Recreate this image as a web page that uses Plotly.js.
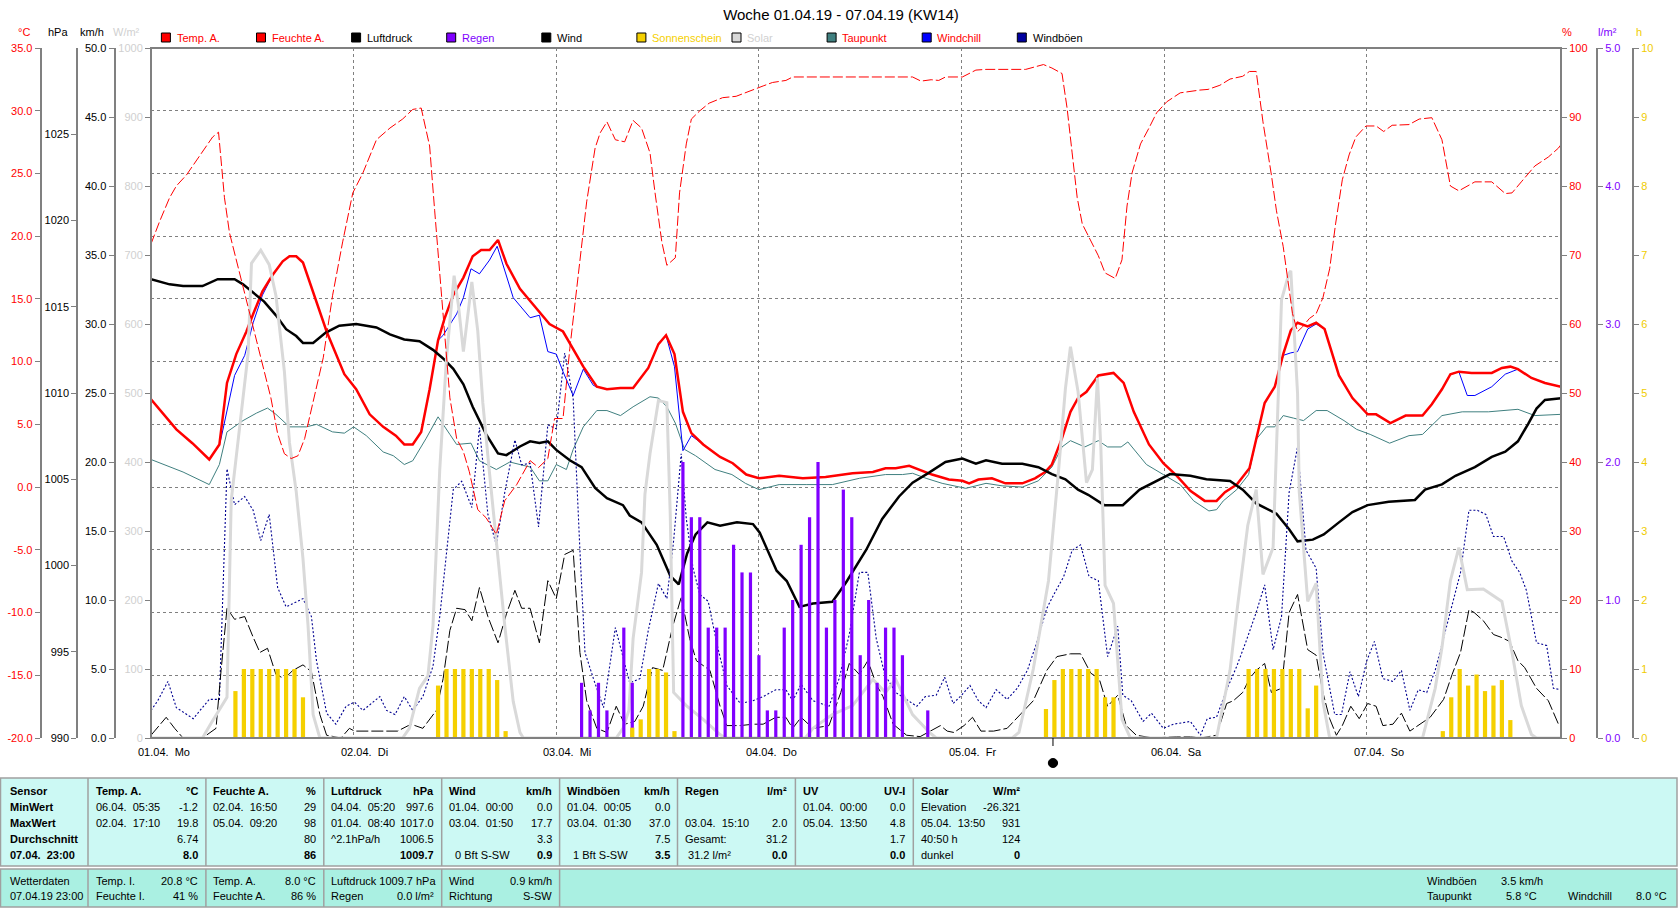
<!DOCTYPE html>
<html><head><meta charset="utf-8">
<script src="https://cdn.plot.ly/plotly-3.0.1.min.js"></script>
<style>html,body{margin:0;padding:0;background:#fff;overflow:hidden}#chart{width:1680px;height:909px}</style>
</head><body><div id="chart"></div>
<script>
// ---- data: [hours since 01.04.19 00:00, value] ----
const tempA = [[0,7.0],[3.0,4.6],[4.9,3.5],[6.9,2.2],[8.1,3.4],[9.0,8.3],[10.1,10.6],[11.3,12.4],[12.1,13.8],[13.2,15.6],[14.4,16.9],[15.6,18.0],[16.4,18.4],[17.2,18.4],[18.0,17.9],[19.2,15.6],[20.8,12.4],[22.9,9.0],[24.3,7.8],[25.9,5.8],[27.5,4.8],[29.0,4.1],[30.0,3.4],[31.0,3.4],[32.0,4.4],[33.0,7.8],[34.0,11.7],[34.8,13.5],[35.8,15.3],[37.0,16.7],[38.1,18.4],[39.1,18.9],[40.1,18.9],[41.1,19.7],[42.1,17.8],[43.7,15.8],[45.7,14.2],[47.2,13.0],[48.8,12.4],[50.0,11.0],[51.2,9.6],[52.8,8.0],[54.0,7.8],[55.6,7.9],[57.1,7.9],[58.9,9.5],[60.1,11.4],[61.0,12.1],[62.0,10.6],[63.0,6.0],[64.0,4.3],[65.4,3.4],[67.4,2.4],[68.9,1.9],[70.5,1.0],[72.0,0.7],[74.4,0.9],[77.2,0.7],[79.9,0.8],[83.1,1.1],[85.5,1.2],[87.0,1.5],[88.2,1.5],[89.8,1.7],[91.0,1.4],[92.5,1.0],[94.5,0.6],[96.1,0.5],[96.9,0.3],[98.0,0.6],[99.6,0.7],[101.2,0.3],[103.2,0.3],[104.7,0.7],[105.9,1.2],[106.7,1.8],[107.9,3.9],[108.9,6.0],[109.8,7.1],[110.8,7.6],[112.2,8.9],[114.0,9.1],[115.2,8.3],[116.4,6.0],[118.2,3.4],[119.9,1.9],[121.5,0.9],[123.1,-0.3],[124.8,-1.1],[126.2,-1.1],[127.2,-0.4],[128.6,0.2],[130.1,1.5],[130.9,3.9],[131.9,6.7],[133.1,8.0],[134.1,10.6],[135.0,12.5],[135.8,13.1],[137.0,12.8],[138.0,13.1],[139.0,12.6],[140.7,8.9],[142.3,7.1],[144.1,5.8],[145.1,5.8],[146.8,5.1],[148.6,5.7],[150.6,5.7],[151.7,6.6],[152.9,7.8],[153.9,9.0],[154.9,9.2],[156.4,9.1],[158.8,9.1],[160.0,9.5],[161.0,9.6],[161.9,9.4],[163.5,8.7],[165.1,8.3],[167.0,8.0]];

const windchill = [[0,7.0],[3.0,4.6],[4.9,3.5],[6.9,2.2],[8.1,3.4],[8.3,3.9],[9.9,8.9],[11.1,10.5],[12.1,13.1],[13.2,15.3],[14.4,16.9],[15.6,18.0],[16.4,18.4],[17.2,18.4],[18.0,17.9],[19.2,15.6],[20.8,12.4],[22.9,9.0],[24.3,7.8],[25.9,5.8],[27.5,4.8],[29.0,4.1],[30.0,3.4],[31.0,3.4],[32.0,4.4],[33.0,7.8],[34.0,11.7],[34.6,12.1],[36.2,13.8],[37.0,15.1],[37.9,17.4],[38.9,17.0],[40.1,18.1],[41.0,19.2],[42.9,15.1],[44.9,13.5],[46.0,13.7],[47.0,10.8],[48.0,10.6],[48.8,9.2],[50.0,7.3],[51.2,9.4],[52.4,8.1],[52.8,8.0],[54.0,7.8],[55.6,7.9],[57.1,7.9],[58.9,9.5],[60.1,11.4],[61.0,12.1],[62.0,9.6],[63.0,2.9],[64.0,4.1],[65.4,3.4],[67.4,2.4],[68.9,1.9],[70.5,1.0],[72.0,0.7],[74.4,0.9],[77.2,0.7],[79.9,0.8],[83.1,1.1],[85.5,1.2],[87.0,1.5],[88.2,1.5],[89.8,1.7],[91.0,1.4],[92.5,1.0],[94.5,0.6],[96.1,0.5],[96.9,0.3],[98.0,0.6],[99.6,0.7],[101.2,0.3],[103.2,0.3],[104.7,0.7],[105.9,1.2],[106.7,1.8],[107.9,3.9],[108.9,6.0],[109.8,7.1],[110.8,7.6],[112.2,8.9],[114.0,9.1],[115.2,8.3],[116.4,6.0],[118.2,3.4],[119.9,1.9],[121.5,0.9],[123.1,-0.3],[124.8,-1.1],[126.2,-1.1],[127.2,-0.4],[128.6,0.2],[130.1,1.5],[130.9,3.9],[131.9,6.7],[133.1,8.0],[134.1,10.5],[135.0,10.7],[135.8,10.8],[137.0,12.6],[138.0,13.0],[139.0,12.6],[140.7,8.9],[142.3,7.1],[144.1,5.8],[145.1,5.8],[146.8,5.1],[148.6,5.7],[150.6,5.7],[151.7,6.6],[152.9,7.8],[153.9,9.0],[154.9,9.2],[155.9,7.3],[156.8,7.3],[158.8,8.0],[160.4,9.0],[161.9,9.4],[163.5,8.7],[165.1,8.3],[167.0,8.0]];

const taupunkt = [[0,2.2],[3.8,1.2],[6.9,0.2],[8.1,1.8],[9.0,4.4],[10.9,5.3],[12.5,5.9],[13.8,6.3],[14.8,5.8],[16.4,4.8],[18.4,4.8],[19.6,5.0],[21.5,4.4],[22.9,4.3],[24.0,4.8],[25.5,4.1],[27.5,2.8],[28.7,2.5],[30.0,1.8],[31.0,2.1],[32.6,3.9],[34.0,5.6],[35.4,4.2],[36.2,3.4],[37.9,3.5],[38.9,2.1],[40.9,1.4],[42.5,2.0],[44.9,1.6],[46.0,0.5],[47.0,0.5],[48.0,1.8],[49.2,1.4],[50.0,3.0],[51.2,4.8],[52.8,6.1],[54.0,6.1],[55.6,5.7],[57.1,6.4],[59.1,7.2],[60.1,7.1],[61.1,6.4],[62.1,5.1],[63.2,3.0],[64.5,2.5],[66.8,1.4],[68.8,1.0],[70.4,0.3],[72.0,-0.2],[74.4,0.2],[77.6,0.2],[80.7,0.2],[83.9,0.7],[87.0,1.0],[89.0,1.0],[90.2,1.1],[91.8,0.7],[93.7,0.3],[96.5,-0.1],[98.9,0.3],[100.8,0.1],[103.2,0.0],[105.1,0.5],[106.7,1.6],[107.9,3.2],[108.9,3.7],[110.6,3.2],[112.2,3.7],[113.3,3.2],[114.9,3.2],[115.7,3.6],[117.9,1.8],[119.9,1.0],[121.9,0.2],[123.5,-1.1],[125.3,-1.9],[126.2,-1.8],[127.0,-1.1],[128.6,-0.2],[130.0,1.0],[130.9,3.8],[132.1,4.8],[133.1,4.8],[134.1,5.7],[135.3,5.5],[136.5,5.3],[138.0,6.1],[139.3,6.1],[141.3,5.3],[142.8,4.6],[144.4,4.2],[146.7,3.5],[149.0,4.1],[150.6,4.2],[152.9,5.7],[155.3,6.0],[158.4,6.0],[161.9,6.2],[163.9,5.7],[167.0,5.8]];

const feuchteA = [[0,71.6],[1.0,74.8],[2.2,78.3],[3.0,80.0],[4.2,81.6],[5.7,84.2],[7.3,87.1],[8.0,87.8],[8.3,83.5],[8.7,78.3],[9.3,73.2],[10.1,69.3],[11.3,63.5],[12.3,58.3],[13.4,53.1],[14.2,49.3],[15.0,44.1],[15.8,41.2],[16.6,40.5],[17.4,40.9],[18.2,43.4],[19.2,48.6],[20.4,55.1],[21.5,64.1],[22.7,71.9],[23.9,79.0],[25.1,81.9],[26.7,86.7],[28.3,88.4],[29.8,89.7],[31.0,91.1],[32.0,91.3],[33.0,85.8],[33.6,76.4],[34.2,66.7],[34.8,58.3],[35.4,49.3],[36.2,43.4],[37.0,41.5],[37.7,38.6],[38.7,33.1],[39.7,31.9],[40.9,29.5],[41.9,34.4],[43.3,36.7],[44.9,40.2],[45.9,39.2],[47.0,40.5],[47.8,46.3],[48.8,46.3],[49.6,56.4],[50.8,69.3],[51.6,77.7],[52.6,85.5],[53.2,87.7],[54.0,89.3],[55.0,86.7],[56.1,86.4],[57.1,89.5],[58.1,88.4],[59.1,84.8],[59.7,79.0],[60.5,71.9],[61.1,68.5],[62.1,69.6],[62.6,79.0],[63.4,86.1],[64.0,89.7],[65.0,90.9],[66.1,92.0],[67.7,92.8],[69.3,93.0],[70.9,93.7],[72.5,94.5],[73.6,95.0],[75.2,95.3],[76.0,95.8],[79.2,95.8],[83.1,95.9],[87.1,95.8],[90.2,95.8],[91.2,95.2],[92.4,95.4],[93.3,95.3],[94.1,95.8],[96.1,95.8],[97.7,96.8],[98.9,96.9],[103.6,96.9],[105.7,97.6],[106.7,97.1],[107.9,96.3],[108.5,91.3],[109.1,84.8],[109.7,78.3],[110.3,74.5],[111.4,71.9],[112.2,69.9],[113.0,67.4],[114.2,66.6],[115.0,69.3],[115.6,77.1],[116.2,81.9],[117.2,86.1],[118.2,88.4],[119.1,90.6],[120.3,92.2],[121.9,93.5],[124.2,93.9],[125.2,94.0],[126.6,94.6],[127.8,95.5],[129.3,95.9],[130.1,96.6],[130.9,96.6],[131.7,89.3],[132.7,81.6],[133.3,76.4],[134.1,71.2],[134.8,64.8],[135.2,61.5],[135.8,58.9],[136.4,59.6],[137.2,60.8],[138.0,61.5],[138.8,63.8],[139.6,68.0],[140.3,74.5],[141.1,80.9],[141.9,84.5],[142.7,87.1],[143.9,88.7],[145.1,88.7],[146.0,87.9],[147.0,88.8],[149.0,88.9],[150.2,89.7],[151.7,89.9],[152.9,86.7],[153.9,80.0],[154.9,79.3],[156.8,80.6],[158.8,80.6],[160.4,78.9],[161.2,79.0],[162.3,80.6],[163.9,82.9],[165.5,84.2],[166.7,85.5],[167.0,86.0]];

const luftdruck = [[0,1016.6],[2.2,1016.3],[3.8,1016.2],[6.1,1016.2],[7.9,1016.6],[9.9,1016.6],[10.9,1016.3],[12.1,1015.8],[13.4,1015.3],[14.8,1014.5],[16.0,1013.7],[17.2,1013.3],[18.0,1012.9],[19.2,1012.9],[20.7,1013.5],[22.3,1013.9],[24.3,1014.0],[26.7,1013.8],[28.3,1013.4],[30.0,1013.1],[31.8,1013.0],[33.4,1012.5],[34.6,1012.0],[35.8,1011.4],[37.0,1010.5],[38.1,1009.2],[39.7,1007.6],[41.1,1006.5],[42.1,1006.4],[43.7,1006.9],[44.9,1007.2],[46.0,1007.1],[47.0,1007.2],[48.0,1006.7],[49.6,1006.1],[51.0,1005.7],[52.6,1004.5],[54.0,1003.9],[55.9,1003.5],[56.7,1002.9],[58.1,1002.5],[59.9,1001.2],[61.5,999.4],[62.5,998.9],[63.5,1000.7],[64.5,1001.8],[65.9,1002.5],[67.4,1002.3],[69.4,1002.5],[71.3,1002.4],[72.1,1001.9],[74.1,999.7],[75.3,999.1],[76.8,997.6],[78.4,997.8],[80.7,997.9],[82.3,999.0],[84.7,1000.9],[86.6,1002.7],[88.6,1004.0],[90.2,1004.8],[92.2,1005.4],[94.1,1006.0],[96.1,1006.2],[97.7,1005.9],[98.9,1006.1],[100.8,1005.9],[103.2,1005.9],[105.1,1005.7],[106.7,1005.3],[108.3,1005.0],[109.8,1004.4],[111.0,1004.1],[112.9,1003.5],[115.1,1003.5],[117.1,1004.4],[119.0,1004.9],[120.7,1005.3],[123.1,1005.2],[125.0,1005.0],[127.8,1004.9],[129.3,1004.4],[130.9,1003.6],[133.3,1003.0],[134.8,1002.1],[135.8,1001.4],[137.6,1001.5],[138.9,1001.8],[140.7,1002.5],[142.3,1003.1],[144.1,1003.5],[146.6,1003.7],[149.7,1003.8],[150.9,1004.4],[152.9,1004.7],[154.5,1005.2],[156.8,1005.7],[158.8,1006.3],[160.4,1006.6],[161.9,1007.2],[163.1,1008.2],[164.1,1009.1],[165.1,1009.6],[167.0,1009.7]];

const wind = [[0,0.2],[1.8,1.5],[2.8,0.7],[3.8,0.0],[6.1,0.0],[7.7,0.7],[8.3,4.9],[9.0,9.4],[9.9,8.6],[11.1,8.8],[12.1,7.3],[12.9,6.2],[13.8,6.5],[14.8,4.6],[15.8,4.3],[16.8,4.9],[18.0,5.3],[19.0,4.8],[20.0,1.7],[20.8,0.2],[22.5,0.0],[23.5,0.7],[24.1,0.5],[25.9,0.5],[27.5,0.5],[29.2,0.5],[30.8,1.0],[32.2,0.7],[33.8,2.0],[34.6,4.3],[35.4,7.8],[36.2,9.4],[37.2,9.3],[38.0,8.5],[38.9,10.9],[39.9,8.8],[41.1,6.9],[42.1,9.0],[43.1,10.7],[43.9,9.4],[44.9,9.4],[46.0,6.9],[47.0,11.4],[48.0,10.1],[49.0,13.3],[50.0,13.6],[50.8,6.2],[51.6,2.7],[52.8,0.7],[54.0,0.4],[55.1,2.3],[56.1,1.0],[57.3,1.2],[58.3,2.3],[59.4,5.1],[60.6,4.9],[61.8,8.1],[62.8,10.2],[63.8,7.2],[64.6,5.6],[66.2,4.9],[67.4,2.3],[68.2,0.9],[69.8,0.9],[71.3,1.0],[72.5,1.0],[74.0,1.5],[75.2,1.5],[76.0,0.7],[77.0,1.5],[78.4,0.7],[80.3,0.9],[81.7,3.3],[82.7,5.4],[83.9,4.6],[84.9,5.6],[85.9,3.9],[86.7,3.0],[87.9,1.0],[89.5,0.2],[91.1,0.1],[92.3,0.5],[93.5,0.9],[94.3,0.5],[95.1,0.4],[96.3,0.9],[97.3,1.5],[98.3,0.5],[99.8,0.5],[101.4,0.7],[103.0,1.7],[104.5,2.7],[106.1,4.9],[107.3,5.9],[108.9,6.1],[110.1,6.1],[111.3,4.7],[112.3,4.3],[113.3,2.3],[114.5,3.1],[115.5,0.9],[116.7,0.2],[118.7,0.0],[121.5,0.1],[123.1,0.1],[124.3,0.0],[126.2,0.2],[127.4,2.5],[128.2,2.7],[129.3,3.3],[130.1,4.3],[130.9,4.9],[131.9,5.4],[132.7,3.3],[133.9,3.6],[134.8,9.1],[135.8,10.4],[137.0,6.4],[138.0,6.0],[138.8,3.3],[139.6,1.4],[140.4,0.2],[141.1,0.9],[142.1,2.3],[143.1,1.4],[144.1,2.5],[145.1,2.3],[145.9,0.9],[147.1,1.0],[148.1,1.8],[149.1,0.5],[150.3,1.0],[151.5,1.5],[153.1,2.8],[154.1,4.6],[155.1,6.2],[156.1,9.3],[156.7,9.1],[157.8,8.5],[159.0,7.5],[159.9,7.3],[160.9,7.0],[161.9,5.6],[162.7,5.1],[164.1,3.6],[165.5,2.7],[166.7,1.0],[167.0,0.9]];

const windboeen = [[0,2.0],[0.8,2.7],[2.0,4.1],[3.0,2.2],[5.0,1.4],[6.9,2.8],[8.1,2.8],[8.5,10.4],[9.0,19.5],[9.9,16.9],[11.1,17.5],[12.1,16.5],[13.0,14.3],[14.0,16.2],[15.0,10.9],[16.0,9.5],[17.0,9.8],[18.0,10.1],[19.0,8.8],[19.6,5.6],[20.8,1.8],[21.9,1.0],[23.1,2.3],[24.1,2.6],[25.1,2.0],[27.1,3.0],[27.9,2.0],[28.9,1.7],[30.0,3.0],[31.0,2.0],[32.2,3.0],[33.4,5.2],[34.2,8.8],[35.0,13.6],[35.8,18.0],[36.8,18.6],[38.0,16.7],[38.9,22.5],[39.9,16.2],[40.9,14.0],[41.9,17.8],[43.1,21.6],[43.9,19.8],[44.9,19.9],[45.9,15.3],[47.0,22.7],[48.0,22.4],[49.0,27.9],[50.0,24.6],[50.8,13.6],[51.4,6.2],[52.4,4.3],[53.6,2.2],[55.0,8.0],[56.0,5.6],[56.7,4.0],[57.9,4.3],[58.9,7.8],[60.1,11.2],[61.1,10.1],[61.5,12.2],[61.9,14.3],[62.8,20.6],[63.4,15.9],[64.2,12.3],[65.0,10.4],[66.0,9.9],[67.0,6.9],[68.2,3.8],[69.8,2.5],[71.3,2.7],[72.5,3.0],[74.0,3.5],[75.2,3.5],[76.0,2.7],[77.0,3.9],[78.4,2.7],[80.3,2.3],[81.5,4.3],[82.7,7.5],[83.9,12.0],[84.9,12.0],[85.9,7.2],[86.9,4.6],[88.2,3.3],[89.5,2.8],[90.7,2.3],[91.7,3.0],[93.0,3.1],[94.0,4.4],[95.0,2.5],[96.0,3.1],[97.0,3.8],[98.0,2.7],[98.9,2.2],[100.1,3.5],[101.4,2.8],[102.6,3.6],[103.8,4.9],[104.9,6.9],[106.1,9.4],[107.1,10.6],[108.1,11.7],[109.1,13.6],[110.1,14.0],[111.1,11.7],[112.2,11.4],[113.3,5.9],[114.5,8.1],[115.1,3.1],[116.1,2.7],[117.5,1.2],[118.5,1.8],[119.9,0.7],[121.1,1.0],[123.1,1.2],[124.3,0.2],[125.1,1.4],[126.2,1.5],[127.4,3.5],[128.6,5.2],[129.7,7.0],[130.9,9.1],[131.9,11.1],[132.9,6.4],[133.9,8.8],[134.8,17.8],[135.8,21.1],[136.8,13.6],[138.0,12.3],[138.8,6.2],[140.2,1.7],[141.0,1.7],[142.0,4.8],[143.0,3.0],[144.0,5.6],[144.9,7.0],[145.9,4.3],[147.1,4.1],[148.1,4.9],[149.1,2.0],[150.1,3.5],[151.1,3.3],[152.1,4.9],[153.1,7.3],[154.1,9.6],[155.1,12.0],[156.1,16.5],[157.1,16.5],[158.1,16.2],[159.0,14.6],[160.2,14.6],[161.2,12.8],[162.1,12.0],[162.9,10.7],[164.1,6.9],[165.3,6.7],[166.1,3.6],[167.0,3.5]];

const solar = [[0,0],[6.1,0],[7.1,21],[8.1,40],[9.0,59],[9.5,344],[10.5,454],[11.5,557],[11.9,688],[13.0,707],[14.0,686],[14.8,641],[15.8,531],[16.4,428],[17.2,357],[18.0,260],[18.6,163],[19.2,34],[20.0,0],[29.8,0],[30.6,14],[31.8,72],[32.8,90],[33.4,163],[34.2,389],[35.0,551],[35.9,670],[36.4,628],[37.0,560],[38.0,661],[38.7,590],[39.3,486],[40.1,383],[41.1,260],[41.9,163],[42.9,53],[43.7,8],[44.1,0],[55.1,0],[55.9,14],[56.6,40],[57.1,144],[58.1,240],[58.5,353],[59.1,412],[60.1,489],[61.1,486],[61.5,324],[61.9,66],[63.4,47],[65.4,27],[67.4,5],[68.0,0],[77.5,0],[78.4,14],[80.7,34],[83.1,47],[85.5,85],[87.0,66],[88.2,85],[90.2,34],[92.2,8],[93.0,0],[102.0,0],[102.8,8],[104.5,100],[106.3,228],[107.5,389],[108.3,506],[108.9,567],[109.8,502],[110.8,370],[111.5,389],[112.1,522],[112.5,421],[113.0,221],[114.0,195],[115.0,27],[116.0,0],[126.2,0],[127.8,98],[128.6,182],[129.9,308],[130.9,360],[131.7,237],[132.9,276],[133.3,421],[133.9,635],[134.8,674],[135.0,677],[135.8,499],[136.0,357],[137.0,198],[138.0,224],[138.8,53],[139.6,0],[150.6,0],[152.1,72],[152.9,131],[153.9,228],[154.9,276],[155.9,215],[157.8,216],[160.0,198],[161.2,124],[162.3,47],[163.5,5],[164.1,0],[167.0,0]];

const sonnenschein = [[10,0.68],[11,1],[12,1],[13,1],[14,1],[15,1],[16,1],[17,1],[18,0.59],[34,0.76],[35,1],[36,1],[37,1],[38,1],[39,1],[40,1],[41,0.84],[42,0.1],[57,0.15],[58,0.27],[59,1],[60,1],[61,0.95],[62,0.1],[106,0.42],[107,0.84],[108,1],[109,1],[110,1],[111,1],[112,1],[113,0.59],[114,0.59],[130,1],[131,1],[132,1],[133,1],[134,1],[135,1],[136,1],[137,0.43],[138,0.76],[153,0.1],[154,0.59],[155,1],[156,0.76],[157,0.92],[158,0.68],[159,0.76],[160,0.84],[161,0.26]];

const regen = [[51,0.4],[52,0.2],[53,0.4],[54,0.2],[56,0.8],[57,0.4],[63,2.0],[64,1.6],[65,1.6],[66,0.8],[67,0.8],[68,0.8],[69,1.4],[70,1.2],[71,1.2],[72,0.6],[73,0.2],[74,0.2],[75,0.8],[76,1.0],[77,1.4],[78,1.6],[79,2.0],[80,0.8],[81,1.0],[82,1.8],[83,1.6],[84,0.6],[85,1.0],[86,0.4],[87,0.8],[88,0.8],[89,0.6],[92,0.2]];

const moonPhase = [106.83]; // Neumond 05.04. 10:50

const dayTicks = [0,24,48,72,96,120,144];
const dayLabels = ["01.04.\u00a0\u00a0Mo","02.04.\u00a0\u00a0Di","03.04.\u00a0\u00a0Mi","04.04.\u00a0\u00a0Do","05.04.\u00a0\u00a0Fr","06.04.\u00a0\u00a0Sa","07.04.\u00a0\u00a0So"];
const tempTicks = [-20,-15,-10,-5,0,5,10,15,20,25,30,35];
const tempTickText = ["-20.0","-15.0","-10.0","-5.0","0.0","5.0","10.0","15.0","20.0","25.0","30.0","35.0"];
const hpaTicks = [990,995,1000,1005,1010,1015,1020,1025];

const legendNames = ["Temp. A.","Feuchte A.","Luftdruck","Regen","Wind","Sonnenschein","Solar","Taupunkt","Windchill","Windböen"];
const legendBox = ["#ff0000","#ff0000","#000000","#8000ff","#000000","#f5d000","#d8d8d8","#408080","#0000ff","#0000a0"];
const legendText = ["#ff0000","#ff0000","#000000","#8000ff","#000000","#f5d000","#d0d0d0","#ff0000","#ff0000","#000000"];

const tableUpper = [
 {l:["Sensor","MinWert","MaxWert","Durchschnitt","07.04.\u00a0\u00a023:00"], r:["","","","",""]},
 {l:["Temp. A.","06.04.\u00a0\u00a005:35","02.04.\u00a0\u00a017:10","",""], r:["°C","-1.2","19.8","6.74","8.0"]},
 {l:["Feuchte A.","02.04.\u00a0\u00a016:50","05.04.\u00a0\u00a009:20","",""], r:["%","29","98","80","86"]},
 {l:["Luftdruck","04.04.\u00a0\u00a005:20","01.04.\u00a0\u00a008:40","^2.1hPa/h",""], r:["hPa","997.6","1017.0","1006.5","1009.7"]},
 {l:["Wind","01.04.\u00a0\u00a000:00","03.04.\u00a0\u00a001:50","","\u00a0\u00a00 Bft S-SW"], r:["km/h","0.0","17.7","3.3","0.9"]},
 {l:["Windböen","01.04.\u00a0\u00a000:05","03.04.\u00a0\u00a001:30","","\u00a0\u00a01 Bft S-SW"], r:["km/h","0.0","37.0","7.5","3.5"]},
 {l:["Regen","","03.04.\u00a0\u00a015:10","Gesamt:","\u00a031.2 l/m²"], r:["l/m²","","2.0","31.2","0.0"]},
 {l:["UV","01.04.\u00a0\u00a000:00","05.04.\u00a0\u00a013:50","",""], r:["UV-I","0.0","4.8","1.7","0.0"]},
 {l:["Solar","Elevation","05.04.\u00a0\u00a013:50","40:50 h","dunkel"], r:["W/m²","-26.321","931","124","0"]}
];
const tableLower = [
 {l:["Wetterdaten","07.04.19 23:00"], r:["",""]},
 {l:["Temp. I.","Feuchte I."], r:["20.8 °C","41 %"]},
 {l:["Temp. A.","Feuchte A."], r:["8.0 °C","86 %"]},
 {l:["Luftdruck 1009.7 hPa","Regen"], r:["","0.0 l/m²"]},
 {l:["Wind","Richtung"], r:["0.9 km/h","S-SW"]}
];
const tableExtra = [["Windböen","3.5 km/h"],["Taupunkt","5.8 °C"],["Windchill","8.0 °C"]];

// ---- layout helpers (pixel -> paper) ----
const W=1680, H=909, FONT='"Liberation Sans", Arial, sans-serif';
const PX = x => x/W, PY = y => 1 - y/H;
const plotL=151, plotR=1561, plotT=48, plotB=738;
const xs = a => a.map(p=>p[0]), ys = a => a.map(p=>p[1]);

function txt(text,x,y,color,anchor,size,xref){
  return {text:text, x: xref==='x'? x : PX(x), y:PY(y), xref: xref||'paper', yref:'paper',
    xanchor:anchor||'left', yanchor:'middle', showarrow:false, borderpad:0,
    font:{family:FONT,size:size||11,color:color||'#000'}};
}

const traces = [
 {x:xs(solar), y:ys(solar), yaxis:'y4', type:'scatter', mode:'lines', line:{color:'#d9d9d9', width:3}, name:'Solar'},
 {x:xs(sonnenschein), y:ys(sonnenschein), yaxis:'y7', type:'bar', width:0.5, marker:{color:'#f5d000', line:{width:0}}, name:'Sonnenschein'},
 {x:xs(regen), y:ys(regen), yaxis:'y6', type:'bar', width:0.38, marker:{color:'#8000ff', line:{width:0}}, name:'Regen'},
 {x:xs(windboeen), y:ys(windboeen), yaxis:'y3', type:'scatter', mode:'lines', line:{color:'#000090', width:1.1, dash:'2px,2px'}, name:'Windböen'},
 {x:xs(wind), y:ys(wind), yaxis:'y3', type:'scatter', mode:'lines', line:{color:'#000000', width:1, dash:'12px,3px'}, name:'Wind'},
 {x:xs(taupunkt), y:ys(taupunkt), yaxis:'y', type:'scatter', mode:'lines', line:{color:'#408080', width:1}, name:'Taupunkt'},
 {x:xs(windchill), y:ys(windchill), yaxis:'y', type:'scatter', mode:'lines', line:{color:'#0000ff', width:1}, name:'Windchill'},
 {x:xs(luftdruck), y:ys(luftdruck), yaxis:'y2', type:'scatter', mode:'lines', line:{color:'#000000', width:2.5}, name:'Luftdruck'},
 {x:xs(feuchteA), y:ys(feuchteA), yaxis:'y5', type:'scatter', mode:'lines', line:{color:'#ff0000', width:1, dash:'10px,3px'}, name:'Feuchte A.'},
 {x:xs(tempA), y:ys(tempA), yaxis:'y', type:'scatter', mode:'lines', line:{color:'#ff0000', width:2.5}, name:'Temp. A.'}
];

const ydom = [PY(plotB), PY(plotT)];
function yax(o){
  return Object.assign({anchor:'free', overlaying:'y', side:'left', showgrid:false, zeroline:false,
    showline:true, linecolor:'#808080', linewidth:2, ticks:'outside', ticklen:5, tickwidth:1, tickcolor:'#808080',
    automargin:false, fixedrange:true, tickfont:{family:FONT,size:11,color:'#000'}}, o);
}

const layout = {
  width:W, height:H, margin:{l:0,r:0,t:0,b:0,pad:0}, paper_bgcolor:'#fff', plot_bgcolor:'#fff',
  showlegend:false, barmode:'overlay', font:{family:FONT,size:11,color:'#000'},
  title:{text:'Woche 01.04.19 - 07.04.19 (KW14)', x:PX(841), xanchor:'center', y:PY(15), yanchor:'middle',
         xref:'container', yref:'container', font:{family:FONT,size:15,color:'#000'}},
  xaxis:{domain:[PX(plotL),PX(plotR)], range:[0,167], tickvals:dayTicks.slice(1), showticklabels:false, ticks:'',
    showgrid:true, gridcolor:'#808080', gridwidth:1, griddash:'3px,3px', zeroline:false, showline:false, fixedrange:true, automargin:false},
  yaxis: yax({overlaying:undefined, domain:ydom, position:PX(40.7), range:[-20,35], tickvals:tempTicks, ticktext:tempTickText,
    showgrid:true, gridcolor:'#808080', gridwidth:1, griddash:'3px,3px', tickfont:{family:FONT,size:11,color:'#ff0000'}}),
  yaxis2: yax({position:PX(77.3), range:[990,1030], tickvals:hpaTicks}),
  yaxis3: yax({position:PX(114.5), range:[0,50], dtick:5, tick0:0, tickformat:'.1f'}),
  yaxis4: yax({position:PX(plotL), range:[0,1000], dtick:100, tick0:0, tickformat:'d', tickfont:{family:FONT,size:11,color:'#d0d0d0'}}),
  yaxis5: yax({side:'right', position:PX(plotR), range:[0,100], dtick:10, tick0:0, tickformat:'d', tickfont:{family:FONT,size:11,color:'#ff0000'}}),
  yaxis6: yax({side:'right', position:PX(1597), range:[0,5], dtick:1, tick0:0, tickformat:'.1f', tickfont:{family:FONT,size:11,color:'#8000ff'}}),
  yaxis7: yax({side:'right', position:PX(1633), range:[0,10], dtick:1, tick0:0, tickformat:'d', tickfont:{family:FONT,size:11,color:'#f0cc00'}}),
  shapes:[], annotations:[]
};

const S = layout.shapes, A = layout.annotations;
// plot frame
S.push({type:'rect', xref:'paper', yref:'paper', x0:PX(plotL), x1:PX(plotR), y0:PY(plotB), y1:PY(plotT), line:{color:'#808080', width:2}, layer:'above'});
// moon phase marker
moonPhase.forEach(m=>{
  S.push({type:'line', xref:'x', yref:'paper', x0:m, x1:m, y0:PY(plotB), y1:PY(plotB+8), line:{color:'#000', width:1}});
  S.push({type:'circle', xref:'x', yref:'paper', x0:m-0.55, x1:m+0.55, y0:PY(767.5), y1:PY(758.5), fillcolor:'#000', line:{color:'#000', width:1}});
});
// x labels
dayTicks.forEach((d,i)=>{ const a = txt(dayLabels[i], d, 752, '#000', 'left', 11, 'x'); a.xshift=-14; A.push(a); });
// unit labels
[["°C",24,'#ff0000'],["hPa",58,'#000'],["km/h",92,'#000'],["W/m²",127,'#d0d0d0'],["%",1567,'#ff0000'],["l/m²",1607,'#8000ff'],["h",1639,'#f0cc00']]
  .forEach(u=>A.push(txt(u[0],u[1],32,u[2],'center',11)));
// legend
legendNames.forEach((n,i)=>{
  const x0 = 161.4 + 95.1*i;
  S.push({type:'rect', xref:'paper', yref:'paper', x0:PX(x0), x1:PX(x0+9), y0:PY(42), y1:PY(33), fillcolor:legendBox[i], line:{color:'#000', width:1}});
  A.push(txt(n, x0+14.3, 37.5, legendText[i], 'left', 11));
});
// table boxes
const upT=778, upB=866, loT=869, loB=907, tblR=1677;
S.push({type:'rect', xref:'paper', yref:'paper', x0:PX(0.5), x1:PX(tblR), y0:PY(upB), y1:PY(upT), fillcolor:'#ccf9f4', line:{color:'#a0a0a0', width:1.5}, layer:'below'});
S.push({type:'rect', xref:'paper', yref:'paper', x0:PX(0.5), x1:PX(tblR), y0:PY(loB), y1:PY(loT), fillcolor:'#aaf0e2', line:{color:'#a0a0a0', width:1.5}, layer:'below'});
const colEdge = [0,88,205.9,323.8,441.7,559.6,677.5,795.4,913.3,1027];
colEdge.slice(1,9).forEach(x=>S.push({type:'line', xref:'paper', yref:'paper', x0:PX(x), x1:PX(x), y0:PY(upB), y1:PY(upT), line:{color:'#a0a0a0', width:1.5}}));
colEdge.slice(1,6).forEach(x=>S.push({type:'line', xref:'paper', yref:'paper', x0:PX(x), x1:PX(x), y0:PY(loB), y1:PY(loT), line:{color:'#a0a0a0', width:1.5}}));
const rowsU=[791,807,823,839,855], rowsL=[881,896];
tableUpper.forEach((c,ci)=>{
  const lx = ci===0 ? 8.5 : colEdge[ci]+6.5, rx = ci===8 ? 1021 : colEdge[ci+1]-7;
  c.l.forEach((t,ri)=>{ if(t){ const b = (ri===0||ci===0); A.push(txt(b?'<b>'+t+'</b>':t, lx, rowsU[ri], '#000','left',11)); }});
  c.r.forEach((t,ri)=>{ if(t){ const b = (ri===0||ri===4); A.push(txt(b?'<b>'+t+'</b>':t, rx, rowsU[ri], '#000','right',11)); }});
});
tableLower.forEach((c,ci)=>{
  const lx = ci===0 ? 8.5 : colEdge[ci]+6.5, rx = colEdge[ci+1]-7;
  c.l.forEach((t,ri)=>{ if(t) A.push(txt(t, lx, rowsL[ri], '#000','left',11)); });
  c.r.forEach((t,ri)=>{ if(t) A.push(txt(t, rx, rowsL[ri], '#000','right',11)); });
});
A.push(txt(tableExtra[0][0],1426,rowsL[0])); A.push(txt(tableExtra[0][1],1500,rowsL[0]));
A.push(txt(tableExtra[1][0],1426,rowsL[1])); A.push(txt(tableExtra[1][1],1505,rowsL[1]));
A.push(txt(tableExtra[2][0],1567,rowsL[1])); A.push(txt(tableExtra[2][1],1668,rowsL[1],'#000','right'));

Plotly.newPlot('chart', traces, layout, {staticPlot:true, displayModeBar:false});
</script></body></html>
